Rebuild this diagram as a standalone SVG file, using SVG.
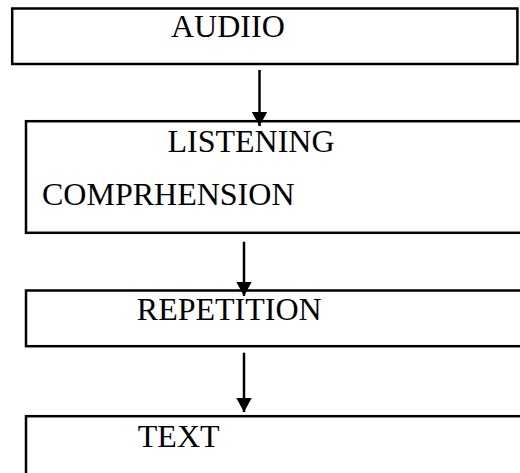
<svg xmlns="http://www.w3.org/2000/svg" width="520" height="473" viewBox="0 0 520 473">
<style>
.box{fill:none;stroke:#000;stroke-width:2.5}
.lbl{font-family:"Liberation Serif","Times New Roman",serif;font-size:32px;fill:#000}
.edge{stroke:#000;stroke-width:2.5;fill:none}
</style>
<defs>
<marker id="ah" markerUnits="userSpaceOnUse" markerWidth="15" markerHeight="16" refX="14" refY="8" orient="auto">
<path d="M0,0.3 L14,8 L0,15.7 Z" fill="#000"/>
</marker>
</defs>
<rect width="520" height="473" fill="#fff"/>
<g id="node-audio">
<rect class="box" x="12.2" y="8.5" width="505.2" height="55.5"/>
<text class="lbl" x="171" y="37.3">AUDIIO</text>
</g>
<g id="node-listening">
<rect class="box" x="26" y="121.2" width="510" height="111.6"/>
<text class="lbl" x="167.5" y="151.7">LISTENING</text>
<text class="lbl" x="42" y="205">COMPRHENSION</text>
</g>
<g id="node-repetition">
<rect class="box" x="26" y="290.5" width="510" height="55.7"/>
<text class="lbl" x="136.8" y="320">REPETITION</text>
</g>
<g id="node-text">
<rect class="box" x="26" y="416.2" width="510" height="80"/>
<text class="lbl" x="137.8" y="446.7">TEXT</text>
</g>
<g id="connectors">
<line class="edge" x1="259.5" y1="70" x2="259.5" y2="126" marker-end="url(#ah)"/>
<line class="edge" x1="244" y1="241.7" x2="244" y2="296" marker-end="url(#ah)"/>
<line class="edge" x1="244" y1="352.7" x2="244" y2="412" marker-end="url(#ah)"/>
</g>
</svg>
